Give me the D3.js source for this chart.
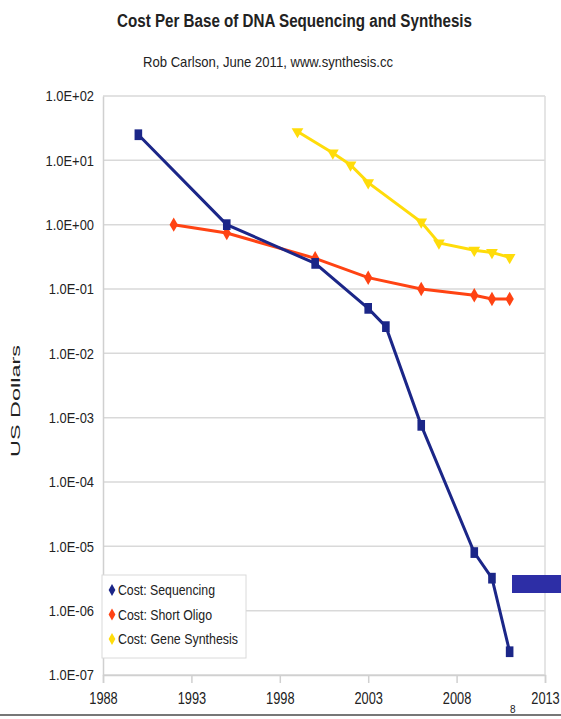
<!DOCTYPE html>
<meta charset="utf-8">
<style>
  body { margin: 0; background: #fff; }
  svg { display: block; }
  text { font-family: "Liberation Sans", Arial, sans-serif; fill: #222; }
</style>
<body>
<div id="chart"></div>
<script src="https://d3js.org/d3.v7.min.js"></script>
<script>
// data
const years = [1988, 1993, 1998, 2003, 2008, 2013];
const yTicks = [1e2, 1e1, 1e0, 1e-1, 1e-2, 1e-3, 1e-4, 1e-5, 1e-6, 1e-7];
const yLabels = ["1.0E+02", "1.0E+01", "1.0E+00", "1.0E-01", "1.0E-02", "1.0E-03", "1.0E-04", "1.0E-05", "1.0E-06", "1.0E-07"];

const seqYears = [1990, 1995, 2000, 2003, 2004, 2006, 2009, 2010, 2011];
const seqCost = [25, 1.0, 0.25, 0.05, 0.026, 7.6e-4, 8e-6, 3.2e-6, 2.3e-7];

const oligoYears = [1992, 1995, 2000, 2003, 2006, 2009, 2010, 2011];
const oligoCost = [1.0, 0.74, 0.3, 0.15, 0.1, 0.08, 0.07, 0.07];

const geneYears = [1999, 2001, 2002, 2003, 2006, 2007, 2009, 2010, 2011];
const geneCost = [28, 13, 8.5, 4.5, 1.1, 0.52, 0.4, 0.37, 0.31];

const seriesNames = ["Cost: Sequencing", "Cost: Short Oligo", "Cost: Gene Synthesis"];
const seriesColors = ["#1b2688", "#ff4313", "#ffdc0a"];

const W = 561, H = 719;
const plot = {left: 103, right: 545, top: 96, bottom: 675};

const svg = d3.select("#chart").append("svg")
    .attr("width", W).attr("height", H);

const x = d3.scaleLinear().domain([1988, 2013]).range([plot.left, plot.right]);
const y = d3.scaleLog().domain([1e-7, 1e2]).range([plot.bottom, plot.top]);

// the original uses a narrow font, squeeze text to its measured width
function squeeze(sel, k) {
  sel.each(function() {
    const w = this.getComputedTextLength();
    d3.select(this).attr("textLength", w * k).attr("lengthAdjust", "spacingAndGlyphs");
  });
}

// gridlines
svg.append("g")
  .selectAll("line").data(yTicks).join("line")
    .attr("x1", plot.left).attr("x2", plot.right)
    .attr("y1", d => y(d)).attr("y2", d => y(d))
    .attr("stroke", "#d9d9d9").attr("stroke-width", 1.5);

// right border
svg.append("line")
  .attr("x1", plot.right).attr("x2", plot.right)
  .attr("y1", plot.top).attr("y2", plot.bottom)
  .attr("stroke", "#dcdcdc").attr("stroke-width", 1.5);

// y axis
const yAxis = svg.append("g")
  .attr("transform", `translate(${plot.left},0)`)
  .call(d3.axisLeft(y).tickValues(yTicks).tickSize(0).tickPadding(9)
    .tickFormat((d, i) => yLabels[i]));
yAxis.select(".domain").attr("stroke", "#d0d0d0").attr("stroke-width", 1.5);
yAxis.selectAll("text").attr("font-size", 15).attr("fill", "#222")
  .style("font-family", '"Liberation Sans", Arial, sans-serif')
  .call(squeeze, 0.86);

// x axis
const xAxis = svg.append("g")
  .attr("transform", `translate(0,${plot.bottom})`)
  .call(d3.axisBottom(x).tickValues(years).tickSize(8).tickPadding(10)
    .tickFormat(d3.format("d")));
xAxis.select(".domain").attr("stroke", "#d0d0d0").attr("stroke-width", 1.5);
xAxis.selectAll(".tick line").attr("stroke", "#d0d0d0").attr("stroke-width", 1.5);
xAxis.selectAll("text").attr("font-size", 16).attr("fill", "#222")
  .style("font-family", '"Liberation Sans", Arial, sans-serif')
  .call(squeeze, 0.8);

const line = d3.line().x(d => x(d[0])).y(d => y(d[1]));

const series = [
  {yrs: seqYears, vals: seqCost, shape: d3.symbolSquare, size: 80, rot: 0},
  {yrs: oligoYears, vals: oligoCost, shape: d3.symbolDiamond, size: 60, rot: 0},
  {yrs: geneYears, vals: geneCost, shape: d3.symbolTriangle, size: 60, rot: 180}
];

// draw oligo first, then gene, then sequencing on top
[1, 2, 0].forEach(i => {
  const s = series[i];
  const pts = s.yrs.map((yr, j) => [yr, s.vals[j]]);
  svg.append("path")
    .attr("d", line(pts))
    .attr("fill", "none")
    .attr("stroke", seriesColors[i])
    .attr("stroke-width", 3);
  svg.append("g").selectAll("path").data(pts).join("path")
    .attr("d", d3.symbol().type(s.shape).size(s.size))
    .attr("transform", d => `translate(${x(d[0])},${y(d[1])}) rotate(${s.rot}) scale(${i === 0 ? "0.85,1.2" : "1,1"})`)
    .attr("fill", seriesColors[i]);
});

// title
svg.append("text")
  .attr("x", 117).attr("y", 27)
  .attr("font-size", 18).attr("font-weight", "bold")
  .attr("textLength", 355).attr("lengthAdjust", "spacingAndGlyphs")
  .text("Cost Per Base of DNA Sequencing and Synthesis");

svg.append("text")
  .attr("x", 143).attr("y", 67)
  .attr("font-size", 15)
  .attr("textLength", 250).attr("lengthAdjust", "spacingAndGlyphs")
  .text("Rob Carlson, June 2011, www.synthesis.cc");

// y label
svg.append("text")
  .attr("transform", "translate(20,401) rotate(-90)")
  .attr("text-anchor", "middle")
  .attr("font-size", 12.5)
  .attr("fill", "#444")
  .attr("textLength", 112).attr("lengthAdjust", "spacingAndGlyphs")
  .text("US Dollars");

// legend
const lg = svg.append("g").attr("transform", "translate(102,575)");
lg.append("rect")
  .attr("width", 144).attr("height", 83)
  .attr("fill", "#fff").attr("stroke", "#dadada");
const legendLen = [97, 94, 120];
seriesNames.forEach((name, i) => {
  const gy = 15 + i * 24.5;
  lg.append("path")
    .attr("d", d3.symbol().type(d3.symbolDiamond).size(40))
    .attr("transform", `translate(10,${gy})`)
    .attr("fill", seriesColors[i]);
  lg.append("text")
    .attr("x", 16).attr("y", gy + 5)
    .attr("font-size", 15)
    .attr("textLength", legendLen[i]).attr("lengthAdjust", "spacingAndGlyphs")
    .text(name);
});

// stray blue bar at right edge
svg.append("rect")
  .attr("x", 512).attr("y", 575).attr("width", 49).attr("height", 18)
  .attr("fill", "#2d2ea6");

// bottom edge
svg.append("line")
  .attr("x1", 0).attr("x2", W).attr("y1", 715).attr("y2", 715)
  .attr("stroke", "#777").attr("stroke-width", 2);
svg.append("text")
  .attr("x", 510).attr("y", 713)
  .attr("font-size", 10).attr("fill", "#556")
  .text("8");
</script>
</body>
